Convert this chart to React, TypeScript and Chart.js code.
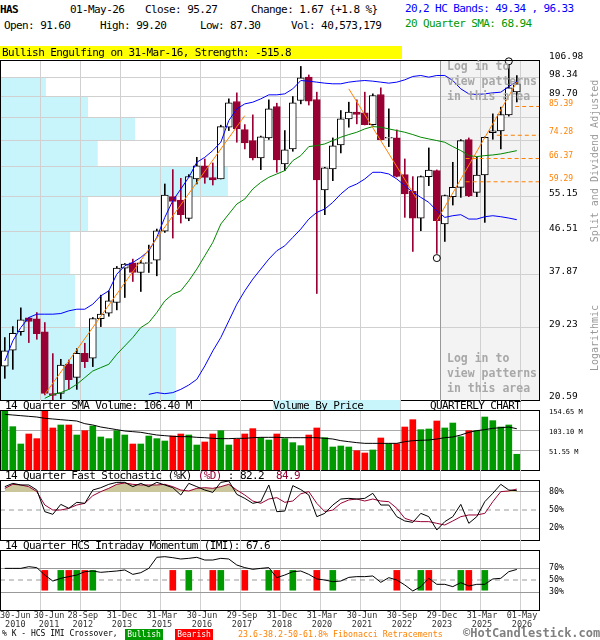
import React, { useEffect, useRef } from 'react';
import { Chart, registerables } from 'chart.js';
Chart.register(...registerables);

const MONO = '"DejaVu Sans Mono", monospace';
const MAROON = '#990033';
const ORANGE = '#ff8000';
const GREEN_BAR = '#009900';
const RED_BAR = '#ff0000';
const KHAKI = '#cbc59c';
const CYAN = '#c8f4fc';
const GRID = '#d0d0d0';

// ---------- x axis (quarters, index 0 = 30-Jun-2010) ----------
const tickIndex = [0, 4, 9, 14, 19, 24, 29, 34, 39, 44, 49, 54, 59, 64];
const tickDates = ['30-Jun', '30-Jun', '28-Sep', '31-Dec', '31-Mar', '30-Jun', '29-Sep', '31-Dec', '31-Mar', '30-Jun', '30-Sep', '29-Dec', '31-Mar', '01-May'];
const tickYears = ['2010', '2011', '2012', '2013', '2015', '2016', '2017', '2018', '2020', '2021', '2022', '2023', '2025', '2026'];

// ---------- price candles ----------
const opens = [24.25, 26.20, 28.69, 30.66, 30.51, 28.64, 21.24, 21.27, 24.52, 22.98, 25.83, 25.21, 30.53, 31.36, 33.03, 39.02, 40.04, 38.20, 39.90, 40.56, 46.68, 55.16, 54.28, 49.65, 60.10, 64.02, 60.49, 60.10, 77.24, 87.49, 76.36, 72.40, 66.55, 73.33, 85.39, 64.64, 69.52, 87.91, 98.44, 88.33, 56.98, 63.09, 70.88, 80.43, 83.07, 82.79, 78.24, 90.50, 73.20, 73.33, 61.38, 56.61, 49.73, 60.79, 62.58, 48.31, 55.16, 57.71, 72.74, 56.33, 61.28, 75.25, 75.87, 82.00, 91.60];
const highs = [27.87, 29.39, 32.18, 30.70, 31.46, 29.97, 25.78, 25.08, 25.00, 26.42, 27.11, 30.71, 34.22, 34.95, 39.33, 39.90, 40.76, 40.50, 43.62, 47.15, 58.66, 62.89, 60.30, 61.38, 66.76, 66.23, 64.95, 78.00, 88.62, 91.23, 78.24, 82.00, 74.00, 88.19, 86.77, 76.00, 89.63, 103.70, 99.50, 91.54, 63.60, 73.33, 83.74, 87.20, 88.19, 91.54, 90.80, 93.48, 84.42, 76.24, 66.23, 60.79, 61.00, 69.86, 62.80, 55.61, 65.16, 72.74, 73.33, 66.76, 73.70, 82.40, 85.11, 104.20, 99.20];
const lows = [22.87, 23.89, 28.18, 27.20, 27.64, 21.10, 20.40, 20.70, 21.68, 21.68, 24.09, 24.21, 29.39, 30.90, 31.87, 33.84, 36.57, 34.84, 38.20, 37.59, 46.39, 45.13, 48.54, 49.09, 58.66, 58.85, 58.37, 60.10, 76.00, 71.81, 69.52, 65.91, 62.89, 72.80, 62.08, 62.58, 68.74, 86.50, 86.00, 34.50, 50.55, 59.61, 68.18, 77.24, 78.50, 78.10, 78.00, 72.60, 70.31, 60.70, 49.90, 42.30, 46.77, 58.19, 41.90, 44.40, 52.97, 54.98, 55.16, 55.16, 48.70, 72.86, 69.52, 81.50, 87.30];
const closes = [26.12, 28.46, 30.36, 30.12, 28.41, 21.27, 21.06, 24.40, 22.72, 25.83, 24.80, 30.56, 31.21, 33.29, 39.02, 39.78, 38.20, 40.04, 40.10, 46.77, 55.61, 53.92, 50.55, 60.79, 64.02, 60.59, 59.81, 77.48, 86.91, 76.61, 71.58, 66.55, 73.70, 84.42, 65.91, 69.18, 86.91, 98.13, 87.62, 59.81, 63.40, 70.54, 80.43, 83.07, 82.13, 78.24, 90.07, 72.74, 73.50, 60.88, 55.88, 49.73, 60.79, 62.78, 49.09, 55.43, 57.71, 72.40, 55.43, 61.28, 73.57, 75.87, 82.13, 93.48, 95.27];

// ---------- overlays ----------
const upperBand = [24.88, 27.42, 29.25, 30.71, 31.21, 31.21, 31.21, 31.31, 31.72, 31.97, 31.97, 32.76, 34.11, 34.95, 37.89, 39.46, 40.10, 41.09, 42.44, 45.28, 49.89, 54.10, 57.25, 60.59, 65.16, 66.76, 68.96, 71.81, 79.77, 84.42, 86.49, 87.20, 88.61, 90.36, 90.36, 90.79, 93.03, 96.86, 96.55, 96.09, 95.62, 95.32, 95.32, 96.09, 96.55, 96.86, 96.55, 96.09, 95.62, 96.09, 97.18, 98.77, 99.24, 98.44, 99.24, 99.24, 96.86, 93.03, 90.79, 90.50, 90.79, 91.24, 91.53, 94.09, 96.33];
const lowerBand = [null, null, null, null, null, null, null, null, null, null, null, null, null, null, null, null, null, null, 21.16, 21.34, 21.23, 21.34, 21.68, 22.14, 22.76, 24.28, 26.12, 27.87, 30.21, 32.76, 34.95, 36.99, 38.83, 40.76, 42.44, 43.48, 45.28, 47.15, 49.49, 51.12, 51.96, 53.66, 55.88, 57.71, 58.66, 60.10, 62.08, 62.08, 61.58, 60.10, 58.19, 56.33, 54.98, 53.66, 51.54, 49.89, 50.30, 50.55, 49.49, 49.49, 50.05, 50.30, 50.05, 49.73, 49.34];
const sma20 = [null, null, null, null, null, 20.76, 21.16, 21.34, 21.68, 22.22, 22.95, 23.70, 24.09, 24.48, 25.70, 26.76, 27.87, 29.25, 29.97, 31.46, 33.29, 34.39, 34.95, 36.69, 38.83, 41.42, 44.19, 48.31, 50.71, 53.23, 54.54, 57.25, 59.13, 60.59, 61.58, 62.58, 65.69, 67.31, 70.31, 70.65, 71.23, 72.40, 73.58, 74.53, 75.38, 76.61, 77.48, 77.24, 76.61, 76.00, 75.38, 74.53, 73.58, 72.98, 72.40, 71.81, 70.31, 68.96, 67.31, 66.98, 67.31, 67.52, 67.86, 68.40, 68.94];

const trendLines = [
  [{ x: 5, y: 21.16 }, { x: 30, y: 81.72 }],
  [{ x: 43, y: 93.03 }, { x: 51.5, y: 54.54 }],
  [{ x: 54, y: 49.09 }, { x: 64, y: 96.09 }],
];
const fibLevels = [85.39, 74.28, 66.37, 59.29];
const fibStart = [63.8, 61.5, 57.6, 57.6];
const markers = [{ x: 54, y: 40.96 }, { x: 63, y: 106.3 }];

// price grid / labels
const priceGrid = [20.59, 29.23, 37.87, 46.51, 55.15, 63.78, 72.42, 81.06, 89.70, 98.34, 106.98];
const priceLabelsShown = [20.59, 29.23, 37.87, 46.51, 55.15, 89.70, 98.34, 106.98];
// volume by price, relative volume per price band (bottom band first)
const vbpVolumes = [32.6, 13.9, 13.0, 16.3, 42.2, 18.1, 25.0, 16.3, 8.5, 0];

// ---------- volume ----------
const volumes = [152.9, 111.7, 67.0, 92.8, 80.8, 154.0, 108.3, 116.0, 116.0, 90.2, 101.4, 113.4, 85.1, 80.8, 101.4, 90.2, 67.0, 67.0, 87.6, 80.8, 74.7, 87.6, 92.8, 90.2, 64.4, 72.2, 92.8, 101.4, 64.4, 79.0, 92.8, 106.6, 83.3, 77.3, 92.8, 80.8, 70.5, 62.7, 90.2, 108.3, 83.3, 59.3, 61.9, 59.3, 49.8, 43.8, 51.6, 82.5, 67.9, 67.9, 110.8, 129.7, 104.0, 105.7, 126.3, 108.3, 121.1, 85.9, 101.4, 101.4, 136.6, 127.2, 110.8, 116.0, 40.57];
const volSma = [143.5, 141.8, 140.0, 138.3, 136.6, 133.2, 131.5, 129.7, 128.0, 126.3, 119.4, 116.0, 110.8, 107.4, 104.0, 100.5, 98.8, 97.1, 93.6, 90.2, 88.5, 86.8, 85.9, 85.9, 84.2, 83.3, 81.6, 80.8, 80.8, 81.6, 81.6, 83.3, 84.2, 84.2, 84.2, 83.3, 83.3, 83.3, 83.3, 83.3, 81.6, 79.9, 75.6, 73.0, 70.5, 68.7, 68.7, 68.7, 68.7, 68.7, 73.0, 75.6, 76.5, 77.3, 79.9, 83.3, 85.1, 90.2, 97.1, 101.4, 104.0, 107.4, 109.1, 110.8, 106.4];
const volTicks = [51.55, 103.10, 154.65];

// ---------- stochastic ----------
const stochK = [88.9, 94.4, 91.7, 91.7, 83.3, 47.2, 42.8, 59.4, 52.8, 62.8, 61.1, 83.3, 87.2, 92.8, 96.1, 96.1, 88.9, 94.4, 88.9, 96.1, 91.7, 87.2, 75.0, 94.4, 88.9, 83.3, 79.4, 96.1, 98.3, 76.1, 69.4, 61.1, 63.9, 91.7, 47.2, 48.3, 90.6, 84.0, 75.0, 38.9, 44.4, 58.3, 68.3, 69.4, 68.3, 69.4, 77.8, 58.3, 58.3, 38.9, 31.7, 29.4, 44.4, 38.9, 16.7, 30.6, 38.9, 59.4, 27.8, 38.9, 63.9, 77.8, 92.8, 83.3, 82.2];
const stochD = [86.1, 92.8, 91.7, 88.9, 80.6, 58.3, 50.0, 50.0, 52.8, 58.3, 61.1, 73.9, 80.6, 86.1, 92.8, 95.0, 92.8, 91.7, 91.7, 91.7, 92.8, 88.9, 83.3, 81.7, 86.1, 87.2, 86.1, 88.9, 92.8, 83.3, 75.0, 65.0, 61.1, 68.3, 70.6, 62.8, 65.0, 77.0, 80.6, 61.1, 47.2, 50.0, 61.1, 66.7, 68.3, 65.0, 68.3, 65.0, 63.9, 52.8, 36.1, 31.7, 30.6, 30.6, 27.8, 25.0, 31.7, 38.9, 41.7, 41.7, 44.4, 63.9, 80.6, 81.7, 84.9];
const stochTicks = [20, 50, 80];

// ---------- IMI ----------
const imi = [69.4, 69.4, 69.4, 72.2, 70.6, 58.3, 48.3, 52.8, 55.6, 58.3, 63.9, 65.0, 62.8, 63.9, 65.0, 66.7, 59.4, 62.2, 69.4, 87.8, 88.9, 87.2, 85.0, 86.1, 87.8, 83.3, 83.3, 86.1, 85.0, 75.0, 70.6, 67.8, 69.4, 70.6, 53.9, 58.3, 63.9, 65.0, 59.4, 51.7, 50.0, 47.2, 48.3, 54.4, 55.6, 55.6, 56.7, 46.1, 53.9, 50.0, 41.7, 31.7, 38.9, 52.8, 42.8, 42.8, 38.9, 45.6, 40.0, 42.8, 42.8, 51.7, 52.8, 63.9, 67.6];
const imiTicks = [30, 50, 70];
const bullishIdx = [7, 9, 11, 23, 27, 33, 36, 41, 52, 57, 60];
const bearishIdx = [5, 8, 10, 21, 26, 30, 34, 39, 49, 53, 58];
const crossLow = 33;
const crossHigh = 66;

// ---------- layout helpers ----------
const X_MIN = -0.6;
const X_MAX = 66.9;
const GRID_SHIFT = 0.4;
const shadeFrom = tickIndex[11] + GRID_SHIFT;
const idx = opens.map((_, i) => i);
const isUp = idx.map(i => closes[i] >= opens[i]);
const pts = (arr: (number | null)[]) => arr.map((v, i) => ({ x: i, y: v }));
const TRANSPARENT = 'rgba(0,0,0,0)';

function xCfg() {
  return {
    type: 'linear', min: X_MIN, max: X_MAX, offset: false,
    afterBuildTicks: (s: any) => { s.ticks = tickIndex.slice(1).map(i => ({ value: i + GRID_SHIFT })); },
    afterFit: (s: any) => { s.height = 0; s.paddingLeft = 0; s.paddingRight = 0; },
    ticks: { display: false },
    grid: { color: GRID, drawTicks: false, offset: false, lineWidth: 1 },
    border: { display: false },
  };
}

const fitRight = (s: any) => { s.width = 60; s.paddingTop = 0; s.paddingBottom = 0; };

const boxPlugin = {
  id: 'box',
  afterDraw(chart: any) {
    const { ctx, chartArea: a } = chart;
    ctx.save();
    ctx.strokeStyle = '#000';
    ctx.lineWidth = 1;
    ctx.strokeRect(a.left + 0.5, a.top + 0.5, a.right - a.left - 1, a.bottom - a.top);
    ctx.restore();
  },
};

// vertical grid lines continue through the panel title row above each lower panel
const headGridPlugin = {
  id: 'headGrid',
  beforeDraw(chart: any) {
    const { ctx, chartArea: a, scales } = chart;
    ctx.save();
    ctx.strokeStyle = GRID;
    ctx.lineWidth = 1;
    scales.x.ticks.forEach((t: any) => {
      const px = Math.round(scales.x.getPixelForValue(t.value)) + 0.5;
      ctx.beginPath();
      ctx.moveTo(px, 0);
      ctx.lineTo(px, a.top);
      ctx.stroke();
    });
    ctx.restore();
  },
};

const mainBgPlugin = {
  id: 'mainBg',
  beforeDraw(chart: any) {
    const { ctx, chartArea: a, scales } = chart;
    const ys = scales.y, xs = scales.x, xv = scales.xv;
    ctx.save();
    const sx = xs.getPixelForValue(shadeFrom);
    ctx.fillStyle = '#f3f3f3';
    ctx.fillRect(sx, a.top, a.right - sx, a.bottom - a.top);
    ctx.fillStyle = CYAN;
    vbpVolumes.forEach((v, k) => {
      if (!v) return;
      const yTop = ys.getPixelForValue(priceGrid[k + 1]);
      const yBot = ys.getPixelForValue(priceGrid[k]);
      const x0 = xv.getPixelForValue(0);
      const x1 = xv.getPixelForValue(v);
      ctx.fillRect(x0, yTop, x1 - x0, yBot - yTop);
    });
    ctx.restore();
  },
  beforeDatasetsDraw(chart: any) {
    const { ctx, chartArea: a, scales } = chart;
    const sx = Math.round(scales.x.getPixelForValue(shadeFrom)) + 0.5;
    ctx.save();
    ctx.strokeStyle = '#999';
    ctx.lineWidth = 1;
    ctx.beginPath();
    ctx.moveTo(sx, a.top);
    ctx.lineTo(sx, a.bottom);
    ctx.stroke();
    ctx.restore();
  },
};

const xLabelPlugin = {
  id: 'xlabels',
  afterDraw(chart: any) {
    const { ctx, chartArea: a, scales } = chart;
    const xs = scales.x;
    ctx.save();
    ctx.font = `8.5px ${MONO}`;
    ctx.fillStyle = '#333';
    ctx.textAlign = 'center';
    ctx.textBaseline = 'middle';
    let prevRight = -Infinity;
    tickIndex.forEach((ti, k) => {
      const w = Math.max(ctx.measureText(tickDates[k]).width, ctx.measureText(tickYears[k]).width);
      let cx = xs.getPixelForValue(ti + GRID_SHIFT) + 2;
      cx = Math.max(cx, w / 2, prevRight + 3 + w / 2);
      ctx.fillText(tickDates[k], cx, a.bottom + 6);
      ctx.fillText(tickYears[k], cx, a.bottom + 14.5);
      prevRight = cx + w / 2;
    });
    ctx.restore();
  },
};

const baseOpts = (padTop: number, padBottom: number) => ({
  responsive: false,
  animation: false,
  events: [],
  layout: { autoPadding: false, padding: { top: padTop, bottom: padBottom, left: 0, right: 0 } },
  plugins: { legend: { display: false }, tooltip: { enabled: false } },
});

function mainConfig(): any {
  const line = (data: any[], color: string, order: number, extra: any = {}) => ({
    type: 'line', data, borderColor: color, borderWidth: 1, pointRadius: 0, tension: 0,
    xAxisID: 'x', yAxisID: 'y', order, ...extra,
  });
  return {
    type: 'bar',
    data: {
      datasets: [
        {
          type: 'bar', data: idx.map(i => ({ x: i, y: [lows[i], highs[i]] })),
          backgroundColor: idx.map(i => (isUp[i] ? '#000' : MAROON)),
          barThickness: 1, grouped: false, order: 6, xAxisID: 'x', yAxisID: 'y',
        },
        {
          type: 'bar', data: idx.map(i => ({ x: i, y: [opens[i], closes[i]] })),
          backgroundColor: idx.map(i => (isUp[i] ? '#fff' : MAROON)),
          borderColor: idx.map(i => (isUp[i] ? '#000' : MAROON)),
          borderWidth: 1, borderSkipped: false, barThickness: 7, grouped: false, order: 5,
          xAxisID: 'x', yAxisID: 'y',
        },
        line(pts(sma20), '#008800', 3),
        line(pts(upperBand), '#0000ff', 3),
        line(pts(lowerBand), '#0000ff', 3),
        ...trendLines.map(t => line(t, ORANGE, 2)),
        ...fibLevels.map((lv, k) => line([{ x: fibStart[k], y: lv }, { x: X_MAX, y: lv }], ORANGE, 2, { borderDash: [4, 3] })),
        {
          type: 'line', data: markers, showLine: false, pointRadius: 3.5, pointStyle: 'circle',
          pointBorderColor: '#000', pointBackgroundColor: TRANSPARENT, pointBorderWidth: 1,
          clip: false, order: 1, xAxisID: 'x', yAxisID: 'y',
        },
      ],
    },
    options: {
      ...baseOpts(20, 10),
      scales: {
        x: xCfg(),
        xv: { type: 'linear', display: false, min: 0, max: 100, offset: false },
        y: {
          type: 'logarithmic', position: 'right', min: 20.59, max: 106.98,
          afterBuildTicks: (s: any) => { s.ticks = [...priceGrid, ...fibLevels].map(v => ({ value: v })); },
          afterFit: fitRight,
          grid: {
            drawTicks: false,
            color: (ctx: any) => (ctx.tick && fibLevels.includes(ctx.tick.value) ? TRANSPARENT : GRID),
          },
          border: { display: false },
          ticks: {
            autoSkip: false, padding: 9, labelOffset: -3,
            callback: (v: number) => (fibLevels.includes(v) || priceLabelsShown.includes(v) ? v.toFixed(2) : ''),
            color: (ctx: any) => (ctx.tick && fibLevels.includes(ctx.tick.value) ? ORANGE : '#000'),
            font: (ctx: any) => (ctx.tick && fibLevels.includes(ctx.tick.value)
              ? { family: MONO, size: 8 } : { family: MONO, size: 9.5 }),
          },
        },
      },
    },
    plugins: [mainBgPlugin, boxPlugin],
  };
}

function volConfig(): any {
  return {
    type: 'bar',
    data: {
      datasets: [
        {
          type: 'bar', data: pts(volumes), backgroundColor: idx.map(i => (isUp[i] ? GREEN_BAR : RED_BAR)),
          barThickness: 6, grouped: false, order: 2, xAxisID: 'x', yAxisID: 'y',
        },
        {
          type: 'line', data: pts(volSma), borderColor: '#000', borderWidth: 1, pointRadius: 0,
          order: 1, xAxisID: 'x', yAxisID: 'y',
        },
      ],
    },
    options: {
      ...baseOpts(10, 2),
      scales: {
        x: xCfg(),
        y: {
          type: 'linear', position: 'right', min: 0, max: 154.65,
          afterBuildTicks: (s: any) => { s.ticks = volTicks.map(v => ({ value: v })); },
          afterFit: fitRight,
          grid: { color: '#aaa', drawTicks: false },
          border: { display: false },
          ticks: {
            autoSkip: false, padding: 9, labelOffset: 2, color: '#000',
            font: { family: MONO, size: 7 },
            callback: (v: number) => `${v.toFixed(2)} M`,
          },
        },
      },
    },
    plugins: [headGridPlugin, boxPlugin],
  };
}

function pctY(ticks: number[]) {
  return {
    type: 'linear', position: 'right', min: 0, max: 100,
    afterBuildTicks: (s: any) => { s.ticks = ticks.map(v => ({ value: v })); },
    afterFit: fitRight,
    grid: { drawTicks: false, color: (ctx: any) => (ctx.tick && ctx.tick.value === 50 ? TRANSPARENT : '#999') },
    border: { display: false },
    ticks: {
      autoSkip: false, padding: 9, color: '#000', font: { family: MONO, size: 8.3 },
      callback: (v: number) => `${v}%`,
    },
  };
}

const midLine = (order: number) => ({
  type: 'line', data: [{ x: X_MIN, y: 50 }, { x: X_MAX, y: 50 }], borderColor: '#999', borderWidth: 1,
  borderDash: [5, 4], pointRadius: 0, order, xAxisID: 'x', yAxisID: 'y',
});

function stochConfig(): any {
  return {
    type: 'line',
    data: {
      datasets: [
        midLine(3),
        {
          data: pts(stochD), borderColor: MAROON, borderWidth: 1, pointRadius: 0, order: 2,
          fill: { target: { value: 80 }, above: KHAKI, below: TRANSPARENT }, xAxisID: 'x', yAxisID: 'y',
        },
        { data: pts(stochK), borderColor: '#000', borderWidth: 1, pointRadius: 0, order: 1, xAxisID: 'x', yAxisID: 'y' },
      ],
    },
    options: { ...baseOpts(10, 2), scales: { x: xCfg(), y: pctY(stochTicks) } },
    plugins: [headGridPlugin, boxPlugin],
  };
}

function imiConfig(): any {
  const cross = (list: number[], color: string) => ({
    type: 'bar', data: list.map(i => ({ x: i, y: [crossLow, crossHigh] })), backgroundColor: color,
    barThickness: 6, grouped: false, order: 2, xAxisID: 'x', yAxisID: 'y',
  });
  return {
    type: 'bar',
    data: {
      datasets: [
        midLine(3),
        cross(bullishIdx, GREEN_BAR),
        cross(bearishIdx, RED_BAR),
        { type: 'line', data: pts(imi), borderColor: '#000', borderWidth: 1, pointRadius: 0, order: 1, xAxisID: 'x', yAxisID: 'y' },
      ],
    },
    options: { ...baseOpts(10, 25), scales: { x: xCfg(), y: pctY(imiTicks) } },
    plugins: [headGridPlugin, boxPlugin, xLabelPlugin],
  };
}

function T({ x, y, s = 11, c = '#000', b = false, ls, children, style }: any) {
  const lsp = ls !== undefined ? ls : s === 11 ? -0.6 : 0;
  return (
    <div style={{
      position: 'absolute', left: x, top: y - s / 2, fontFamily: MONO, fontSize: s, lineHeight: `${s}px`,
      height: s, color: c, fontWeight: b ? 'bold' : 'normal', letterSpacing: lsp, whiteSpace: 'pre', ...style,
    }}>{children}</div>
  );
}

export default function App() {
  const mainRef = useRef<HTMLCanvasElement>(null);
  const volRef = useRef<HTMLCanvasElement>(null);
  const stoRef = useRef<HTMLCanvasElement>(null);
  const imiRef = useRef<HTMLCanvasElement>(null);

  useEffect(() => {
    const charts: Chart[] = [];
    if (mainRef.current) charts.push(new Chart(mainRef.current, mainConfig()));
    if (volRef.current) charts.push(new Chart(volRef.current, volConfig()));
    if (stoRef.current) charts.push(new Chart(stoRef.current, stochConfig()));
    if (imiRef.current) charts.push(new Chart(imiRef.current, imiConfig()));
    return () => charts.forEach(c => c.destroy());
  }, []);

  const cv = (top: number, h: number): React.CSSProperties => ({ position: 'absolute', left: 0, top, width: 600, height: h });
  const gray = '#a8a8a8';
  const rot: React.CSSProperties = { position: 'absolute', left: 595, transform: 'translate(-50%,-50%) rotate(-90deg)', fontFamily: MONO, fontSize: 10, color: '#999', whiteSpace: 'pre', lineHeight: '10px' };

  return (
    <div style={{ position: 'absolute', left: 0, top: 0, width: 600, height: 640, background: '#fff', overflow: 'hidden' }}>
      <canvas ref={mainRef} width={600} height={370} style={cv(40, 370)} />
      <canvas ref={volRef} width={600} height={72} style={cv(400, 72)} />
      <canvas ref={stoRef} width={600} height={72} style={cv(470, 72)} />
      <canvas ref={imiRef} width={600} height={95} style={cv(540, 95)} />

      {/* header */}
      <T x={0} y={9} b>HAS</T>
      <T x={70} y={9}>01-May-26</T>
      <T x={145} y={9}>Close: 95.27</T>
      <T x={251} y={9}>Change: 1.67 {'{'}+1.8 %{'}'}</T>
      <T x={405} y={8} c="#0000ff">20,2 HC Bands: 49.34 , 96.33</T>
      <T x={4} y={25}>Open: 91.60</T>
      <T x={100} y={25}>High: 99.20</T>
      <T x={200} y={25}>Low: 87.30</T>
      <T x={291} y={25}>Vol: 40,573,179</T>
      <T x={405} y={23} c="#009900">20 Quarter SMA: 68.94</T>

      <div style={{ position: 'absolute', left: 0, top: 46, width: 402, height: 13, background: '#ffff00' }} />
      <T x={2} y={52.5}>Bullish Engulfing on 31-Mar-16, Strength: -515.8</T>

      {/* login notices */}
      <T x={447} y={67} s={11.5} b c={gray}>Log in to</T>
      <T x={447} y={82} s={11.5} b c={gray}>view patterns</T>
      <T x={447} y={97} s={11.5} b c={gray}>in this area</T>
      <T x={447} y={359} s={11.5} b c={gray}>Log in to</T>
      <T x={447} y={374} s={11.5} b c={gray}>view patterns</T>
      <T x={447} y={389} s={11.5} b c={gray}>in this area</T>

      {/* right rotated labels */}
      <div style={{ ...rot, top: 161 }}>Split and Dividend Adjusted</div>
      <div style={{ ...rot, top: 338 }}>Logarithmic</div>

      {/* volume header */}
      <T x={5} y={405}>14 Quarter SMA Volume: 106.40 M</T>
      <div style={{ position: 'absolute', left: 273, top: 400, width: 127, height: 10, background: CYAN }} />
      <T x={273} y={405}>Volume By Price</T>
      <T x={430} y={405}>QUARTERLY CHART</T>

      {/* stochastic header */}
      <T x={5} y={475}>14 Quarter Fast Stochastic (%K) <span style={{ color: MAROON }}>(%D)</span> : 82.2  <span style={{ color: MAROON }}>84.9</span></T>

      {/* IMI header */}
      <T x={5} y={545}>14 Quarter HCS Intraday Momentum (IMI): 67.6</T>

      {/* bottom legend */}
      <T x={2} y={634} s={8}>% K - HCS IMI Crossover,</T>
      <div style={{ position: 'absolute', left: 125, top: 629, width: 38, height: 11, background: GREEN_BAR, color: '#fff', fontFamily: MONO, fontSize: 8, lineHeight: '11px', textAlign: 'center' }}>Bullish</div>
      <div style={{ position: 'absolute', left: 175, top: 629, width: 38, height: 11, background: RED_BAR, color: '#fff', fontFamily: MONO, fontSize: 8, lineHeight: '11px', textAlign: 'center' }}>Bearish</div>
      <T x={238} y={634} s={8.3} c={ORANGE}>23.6-38.2-50-61.8% Fibonacci Retracements</T>
      <T x={463} y={633} s={12} b c="#808080">©HotCandlestick.com</T>
    </div>
  );
}
